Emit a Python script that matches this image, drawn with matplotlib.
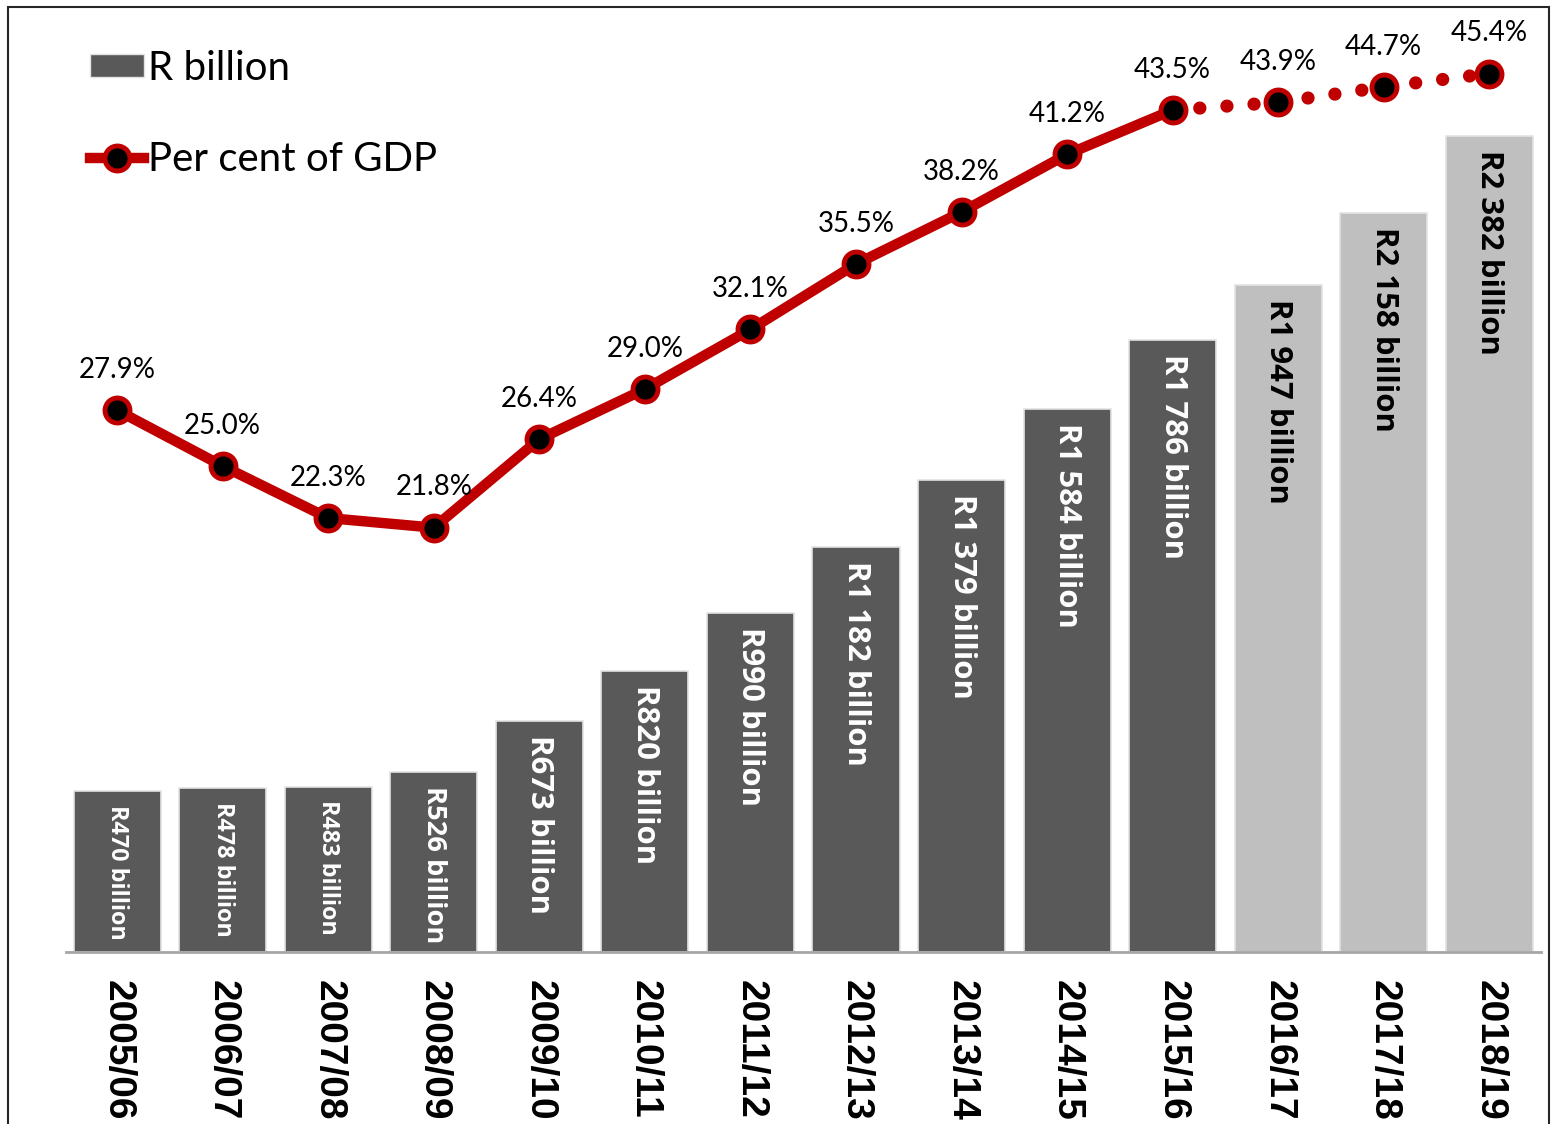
import matplotlib
matplotlib.use("Agg")
import matplotlib.pyplot as plt
from matplotlib.patches import Patch, Rectangle
from matplotlib.lines import Line2D

years = ["2005/06", "2006/07", "2007/08", "2008/09", "2009/10", "2010/11", "2011/12",
         "2012/13", "2013/14", "2014/15", "2015/16", "2016/17", "2017/18", "2018/19"]
debt_rbn = [470, 478, 483, 526, 673, 820, 990, 1182, 1379, 1584, 1786, 1947, 2158, 2382]
debt_pct_gdp = [27.9, 25.0, 22.3, 21.8, 26.4, 29.0, 32.1, 35.5, 38.2, 41.2, 43.5, 43.9, 44.7, 45.4]
n_actual = 11  # 2005/06 .. 2015/16 are outcomes, the rest are estimates

DARK = "#595959"
LIGHT = "#BFBFBF"
RED = "#C00000"

# label size grows with the bar a little
label_sizes = [16.8, 16.8, 16.8, 19.6, 22.4, 22.4, 22.4, 22.4, 22.4, 22.4, 22.4, 22.4, 22.4, 22.4]


def rand_label(v):
    if v < 1000:
        return f"R{v} billion"
    return f"R{v // 1000} {v % 1000:03d} billion"


W, H = 1554, 1124
fig = plt.figure(figsize=(W / 100, H / 100), dpi=100)
ax = fig.add_axes([66 / W, 1 - 952 / H, 1475 / W, 942 / H])
ax2 = ax.twinx()

x = list(range(len(years)))
colors = [DARK if i < n_actual else LIGHT for i in x]
ax.bar(x, debt_rbn, width=0.825, color=colors, edgecolor="#E3E3E3", linewidth=1.2, zorder=2)

for i, v in enumerate(debt_rbn):
    ax.annotate(rand_label(v), (i, v), xytext=(0, -10), textcoords="offset points",
                rotation=270, ha="center", va="top", fontsize=label_sizes[i],
                fontweight="bold", family=["Open Sans", "Lato"],
                color="white" if i < n_actual else "black", zorder=3)

ax.set_xlim(-0.485, 13.49)
ax.set_ylim(0, 2750)
ax.set_xticks(x)
ax.set_xticklabels(years, rotation=270, fontsize=28, fontweight="bold",
                   family=["Liberation Sans Narrow", "Liberation Sans"])
ax.tick_params(axis="x", length=0, pad=20)
ax.set_yticks([])
for s in ["top", "left", "right"]:
    ax.spines[s].set_visible(False)
ax.spines["bottom"].set_color("#A6A6A6")
ax.spines["bottom"].set_linewidth(2)

# percent of GDP on its own scale
ax2.set_ylim(-0.25, 48.7)
ax2.axis("off")
ax2.plot(x[:n_actual], debt_pct_gdp[:n_actual], color=RED, lw=7.5,
         solid_capstyle="round", zorder=3)
ax2.plot(x[n_actual - 1:], debt_pct_gdp[n_actual - 1:], color=RED, lw=9.5,
         linestyle=(0, (0.01, 2.05)), dash_capstyle="round", zorder=3)
ax2.plot(x, debt_pct_gdp, linestyle="none", marker="o", markersize=18,
         markerfacecolor="black", markeredgecolor=RED, markeredgewidth=3.5, zorder=4)
for i, p in enumerate(debt_pct_gdp):
    ax2.annotate(f"{p:.1f}%", (i, p), xytext=(0, 29), textcoords="offset points",
                 ha="center", va="center", fontsize=20, family="Lato", zorder=5)

handles = [
    Patch(facecolor=DARK, edgecolor="#E3E3E3"),
    Line2D([], [], color=RED, lw=7.5, marker="o", markersize=18,
           markerfacecolor="black", markeredgecolor=RED, markeredgewidth=3.5),
]
leg = fig.legend(handles, ["R billion", "Per cent of GDP"], loc="upper left",
                 bbox_to_anchor=(90 / W, 1 - 50 / H), frameon=False,
                 prop={"family": "Lato", "size": 29}, handlelength=1.35,
                 handleheight=0.5, handletextpad=0.1, labelspacing=1.35,
                 borderpad=0, borderaxespad=0)

# outer frame
fig.add_artist(Rectangle((8 / W, -0.05), 1541 / W, 1.05 - 7 / H, transform=fig.transFigure,
                         fill=False, edgecolor="#262626", linewidth=1.5))

fig.savefig("out.png", dpi=100)
